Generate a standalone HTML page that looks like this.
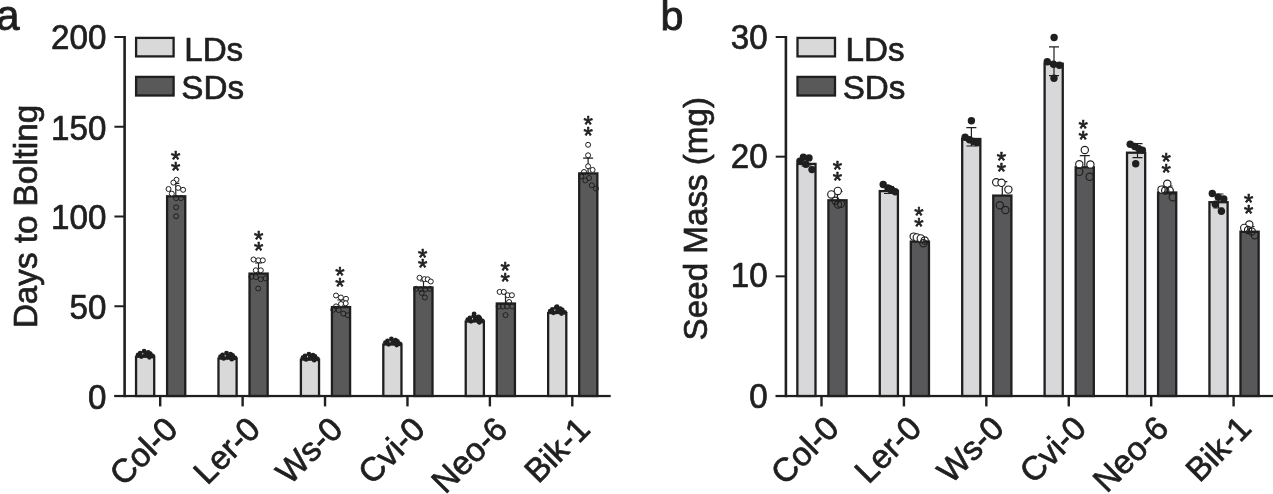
<!DOCTYPE html>
<html><head><meta charset="utf-8"><title>Figure</title>
<style>
html,body{margin:0;padding:0;background:#fff;}
body{width:1273px;height:494px;overflow:hidden;}
svg{display:block;}
svg text{font-family:"Liberation Sans",Arial,Helvetica,sans-serif;fill:#1f1f1f;stroke:#1f1f1f;stroke-width:0.7px;stroke-linejoin:round;}
</style></head><body>
<svg width="1273" height="494" viewBox="0 0 1273 494">
<rect width="1273" height="494" fill="#ffffff"/>
<g id="panelA">
<rect x="123.30" y="36" width="2.6" height="361.20" fill="#1f1f1f"/>
<rect x="114.40" y="394.90" width="496.30" height="2.25" fill="#1f1f1f"/>
<rect x="114.40" y="395.00" width="10" height="2.0" fill="#1f1f1f"/>
<text transform="translate(106.40,408.80) scale(0.959,1)" text-anchor="end" font-size="34.6">0</text>
<rect x="114.40" y="305.25" width="10" height="2.0" fill="#1f1f1f"/>
<text transform="translate(106.40,318.65) scale(0.959,1)" text-anchor="end" font-size="34.6">50</text>
<rect x="114.40" y="215.50" width="10" height="2.0" fill="#1f1f1f"/>
<text transform="translate(106.40,228.60) scale(0.959,1)" text-anchor="end" font-size="34.6">100</text>
<rect x="114.40" y="125.75" width="10" height="2.0" fill="#1f1f1f"/>
<text transform="translate(106.40,140.25) scale(0.959,1)" text-anchor="end" font-size="34.6">150</text>
<rect x="114.40" y="36.00" width="10" height="2.0" fill="#1f1f1f"/>
<text transform="translate(106.40,49.20) scale(0.959,1)" text-anchor="end" font-size="34.6">200</text>
<rect x="159.00" y="396.00" width="2.4" height="10.4" fill="#1f1f1f"/>
<text transform="translate(179.60,431.10) rotate(-45)" text-anchor="end" font-size="33.2">Col-0</text>
<rect x="241.42" y="396.00" width="2.4" height="10.4" fill="#1f1f1f"/>
<text transform="translate(262.02,431.10) rotate(-45)" text-anchor="end" font-size="33.2">Ler-0</text>
<rect x="323.84" y="396.00" width="2.4" height="10.4" fill="#1f1f1f"/>
<text transform="translate(344.44,431.10) rotate(-45)" text-anchor="end" font-size="33.2">Ws-0</text>
<rect x="406.26" y="396.00" width="2.4" height="10.4" fill="#1f1f1f"/>
<text transform="translate(426.86,431.10) rotate(-45)" text-anchor="end" font-size="33.2">Cvi-0</text>
<rect x="488.68" y="396.00" width="2.4" height="10.4" fill="#1f1f1f"/>
<text transform="translate(509.28,431.10) rotate(-45)" text-anchor="end" font-size="33.2">Neo-6</text>
<rect x="571.10" y="396.00" width="2.4" height="10.4" fill="#1f1f1f"/>
<text transform="translate(591.70,431.10) rotate(-45)" text-anchor="end" font-size="33.2">Bik-1</text>
<text transform="translate(36.80,216.5) rotate(-90)" text-anchor="middle" font-size="33.2">Days to Bolting</text>
<rect x="136.10" y="37.9" width="37.5" height="18.5" fill="#d9d9d9" stroke="#1f1f1f" stroke-width="2.3"/>
<rect x="136.10" y="76.9" width="37.5" height="18.6" fill="#595959" stroke="#1f1f1f" stroke-width="2.3"/>
<text x="184.20" y="60.8" font-size="33.2">LDs</text>
<text x="181.30" y="99.0" font-size="33.2">SDs</text>
<rect x="136.05" y="356.70" width="18.15" height="39.30" fill="#d9d9d9" stroke="#1f1f1f" stroke-width="2.3"/>
<rect x="167.10" y="196.30" width="18.15" height="199.70" fill="#595959" stroke="#1f1f1f" stroke-width="2.3"/>
<circle cx="144.1" cy="351.2" r="2.4" fill="#1f1f1f"/>
<circle cx="138.1" cy="354.8" r="2.4" fill="#1f1f1f"/>
<circle cx="141.3" cy="356.5" r="2.4" fill="#1f1f1f"/>
<circle cx="147.0" cy="354.0" r="2.4" fill="#1f1f1f"/>
<circle cx="150.2" cy="353.6" r="2.4" fill="#1f1f1f"/>
<circle cx="152.6" cy="356.0" r="2.4" fill="#1f1f1f"/>
<circle cx="149.4" cy="357.3" r="2.4" fill="#1f1f1f"/>
<circle cx="140.2" cy="353.1" r="2.4" fill="#1f1f1f"/>
<circle cx="148.2" cy="352.3" r="2.4" fill="#1f1f1f"/>
<circle cx="145.2" cy="355.1" r="2.4" fill="#1f1f1f"/>
<path d="M175.80 183.40V196.20M172.30 183.40h7" stroke="#1f1f1f" stroke-width="1.2" fill="none"/>
<circle cx="176.5" cy="179.8" r="2.5" fill="#fff" stroke="#1f1f1f" stroke-width="1"/>
<circle cx="173.4" cy="182.6" r="2.5" fill="#fff" stroke="#1f1f1f" stroke-width="1"/>
<circle cx="168.5" cy="189.0" r="2.5" fill="#fff" stroke="#1f1f1f" stroke-width="1"/>
<circle cx="178.2" cy="187.9" r="2.5" fill="#fff" stroke="#1f1f1f" stroke-width="1"/>
<circle cx="183.1" cy="189.8" r="2.5" fill="#fff" stroke="#1f1f1f" stroke-width="1"/>
<circle cx="171.8" cy="193.6" r="2.5" fill="#fff" stroke="#1f1f1f" stroke-width="1"/>
<circle cx="176.1" cy="198.1" r="2.5" fill="none" stroke="#1f1f1f" stroke-width="1"/>
<circle cx="181.0" cy="198.1" r="2.5" fill="none" stroke="#1f1f1f" stroke-width="1"/>
<circle cx="176.1" cy="207.3" r="2.5" fill="none" stroke="#1f1f1f" stroke-width="1"/>
<circle cx="176.1" cy="216.2" r="2.5" fill="none" stroke="#1f1f1f" stroke-width="1"/>
<text x="175.70" y="168.30" text-anchor="middle" font-size="24">*</text>
<text x="175.70" y="179.30" text-anchor="middle" font-size="24">*</text>
<rect x="218.47" y="358.60" width="18.15" height="37.40" fill="#d9d9d9" stroke="#1f1f1f" stroke-width="2.3"/>
<rect x="249.52" y="273.60" width="18.15" height="122.40" fill="#595959" stroke="#1f1f1f" stroke-width="2.3"/>
<circle cx="226.5" cy="353.1" r="2.4" fill="#1f1f1f"/>
<circle cx="220.5" cy="356.7" r="2.4" fill="#1f1f1f"/>
<circle cx="223.7" cy="358.4" r="2.4" fill="#1f1f1f"/>
<circle cx="229.4" cy="355.9" r="2.4" fill="#1f1f1f"/>
<circle cx="232.6" cy="355.5" r="2.4" fill="#1f1f1f"/>
<circle cx="235.0" cy="357.9" r="2.4" fill="#1f1f1f"/>
<circle cx="231.8" cy="359.2" r="2.4" fill="#1f1f1f"/>
<circle cx="222.6" cy="355.0" r="2.4" fill="#1f1f1f"/>
<circle cx="230.6" cy="354.2" r="2.4" fill="#1f1f1f"/>
<circle cx="227.6" cy="357.0" r="2.4" fill="#1f1f1f"/>
<path d="M258.50 263.00V273.50M255.00 263.00h7" stroke="#1f1f1f" stroke-width="1.2" fill="none"/>
<circle cx="253.5" cy="259.5" r="2.5" fill="#fff" stroke="#1f1f1f" stroke-width="1"/>
<circle cx="258.4" cy="260.3" r="2.5" fill="#fff" stroke="#1f1f1f" stroke-width="1"/>
<circle cx="262.8" cy="260.3" r="2.5" fill="#fff" stroke="#1f1f1f" stroke-width="1"/>
<circle cx="255.8" cy="270.3" r="2.5" fill="#fff" stroke="#1f1f1f" stroke-width="1"/>
<circle cx="260.8" cy="270.3" r="2.5" fill="#fff" stroke="#1f1f1f" stroke-width="1"/>
<circle cx="255.8" cy="277.1" r="2.5" fill="none" stroke="#1f1f1f" stroke-width="1"/>
<circle cx="260.7" cy="279.2" r="2.5" fill="none" stroke="#1f1f1f" stroke-width="1"/>
<circle cx="265.5" cy="278.4" r="2.5" fill="none" stroke="#1f1f1f" stroke-width="1"/>
<circle cx="251.4" cy="276.8" r="2.5" fill="none" stroke="#1f1f1f" stroke-width="1"/>
<circle cx="258.2" cy="288.5" r="2.5" fill="none" stroke="#1f1f1f" stroke-width="1"/>
<text x="258.60" y="248.30" text-anchor="middle" font-size="24">*</text>
<text x="258.60" y="259.30" text-anchor="middle" font-size="24">*</text>
<rect x="300.89" y="359.60" width="18.15" height="36.40" fill="#d9d9d9" stroke="#1f1f1f" stroke-width="2.3"/>
<rect x="331.94" y="307.10" width="18.15" height="88.90" fill="#595959" stroke="#1f1f1f" stroke-width="2.3"/>
<circle cx="308.9" cy="354.1" r="2.4" fill="#1f1f1f"/>
<circle cx="302.9" cy="357.7" r="2.4" fill="#1f1f1f"/>
<circle cx="306.1" cy="359.4" r="2.4" fill="#1f1f1f"/>
<circle cx="311.8" cy="356.9" r="2.4" fill="#1f1f1f"/>
<circle cx="315.0" cy="356.5" r="2.4" fill="#1f1f1f"/>
<circle cx="317.4" cy="358.9" r="2.4" fill="#1f1f1f"/>
<circle cx="314.2" cy="360.2" r="2.4" fill="#1f1f1f"/>
<circle cx="305.0" cy="356.0" r="2.4" fill="#1f1f1f"/>
<circle cx="313.0" cy="355.2" r="2.4" fill="#1f1f1f"/>
<circle cx="310.0" cy="358.0" r="2.4" fill="#1f1f1f"/>
<path d="M340.80 300.00V307.00M337.30 300.00h7" stroke="#1f1f1f" stroke-width="1.2" fill="none"/>
<circle cx="336.0" cy="295.5" r="2.5" fill="#fff" stroke="#1f1f1f" stroke-width="1"/>
<circle cx="340.9" cy="297.5" r="2.5" fill="#fff" stroke="#1f1f1f" stroke-width="1"/>
<circle cx="346.0" cy="298.8" r="2.5" fill="#fff" stroke="#1f1f1f" stroke-width="1"/>
<circle cx="345.7" cy="303.3" r="2.5" fill="#fff" stroke="#1f1f1f" stroke-width="1"/>
<circle cx="336.0" cy="306.4" r="2.5" fill="none" stroke="#1f1f1f" stroke-width="1"/>
<circle cx="338.7" cy="310.1" r="2.5" fill="none" stroke="#1f1f1f" stroke-width="1"/>
<circle cx="343.3" cy="313.7" r="2.5" fill="none" stroke="#1f1f1f" stroke-width="1"/>
<circle cx="347.8" cy="315.2" r="2.5" fill="none" stroke="#1f1f1f" stroke-width="1"/>
<circle cx="333.3" cy="309.7" r="2.5" fill="none" stroke="#1f1f1f" stroke-width="1"/>
<circle cx="341.0" cy="304.0" r="2.5" fill="#fff" stroke="#1f1f1f" stroke-width="1"/>
<text x="339.80" y="283.50" text-anchor="middle" font-size="24">*</text>
<text x="339.80" y="294.60" text-anchor="middle" font-size="24">*</text>
<rect x="383.31" y="344.50" width="18.15" height="51.50" fill="#d9d9d9" stroke="#1f1f1f" stroke-width="2.3"/>
<rect x="414.36" y="287.50" width="18.15" height="108.50" fill="#595959" stroke="#1f1f1f" stroke-width="2.3"/>
<circle cx="391.4" cy="339.0" r="2.4" fill="#1f1f1f"/>
<circle cx="385.4" cy="342.6" r="2.4" fill="#1f1f1f"/>
<circle cx="388.6" cy="344.3" r="2.4" fill="#1f1f1f"/>
<circle cx="394.3" cy="341.8" r="2.4" fill="#1f1f1f"/>
<circle cx="397.5" cy="341.4" r="2.4" fill="#1f1f1f"/>
<circle cx="399.9" cy="343.8" r="2.4" fill="#1f1f1f"/>
<circle cx="396.7" cy="345.1" r="2.4" fill="#1f1f1f"/>
<circle cx="387.5" cy="340.9" r="2.4" fill="#1f1f1f"/>
<circle cx="395.5" cy="340.1" r="2.4" fill="#1f1f1f"/>
<circle cx="392.5" cy="342.9" r="2.4" fill="#1f1f1f"/>
<path d="M423.50 281.00V287.40M420.00 281.00h7" stroke="#1f1f1f" stroke-width="1.2" fill="none"/>
<circle cx="419.5" cy="277.8" r="2.5" fill="#fff" stroke="#1f1f1f" stroke-width="1"/>
<circle cx="424.4" cy="279.1" r="2.5" fill="#fff" stroke="#1f1f1f" stroke-width="1"/>
<circle cx="427.7" cy="279.3" r="2.5" fill="#fff" stroke="#1f1f1f" stroke-width="1"/>
<circle cx="430.8" cy="281.5" r="2.5" fill="#fff" stroke="#1f1f1f" stroke-width="1"/>
<circle cx="416.2" cy="288.8" r="2.5" fill="none" stroke="#1f1f1f" stroke-width="1"/>
<circle cx="420.7" cy="289.1" r="2.5" fill="none" stroke="#1f1f1f" stroke-width="1"/>
<circle cx="425.3" cy="289.1" r="2.5" fill="none" stroke="#1f1f1f" stroke-width="1"/>
<circle cx="429.9" cy="288.8" r="2.5" fill="none" stroke="#1f1f1f" stroke-width="1"/>
<circle cx="421.7" cy="293.0" r="2.5" fill="none" stroke="#1f1f1f" stroke-width="1"/>
<circle cx="424.9" cy="297.5" r="2.5" fill="none" stroke="#1f1f1f" stroke-width="1"/>
<text x="422.60" y="265.50" text-anchor="middle" font-size="24">*</text>
<text x="422.60" y="276.30" text-anchor="middle" font-size="24">*</text>
<rect x="465.73" y="321.50" width="18.15" height="74.50" fill="#d9d9d9" stroke="#1f1f1f" stroke-width="2.3"/>
<rect x="496.78" y="303.50" width="18.15" height="92.50" fill="#595959" stroke="#1f1f1f" stroke-width="2.3"/>
<circle cx="473.8" cy="316.0" r="2.4" fill="#1f1f1f"/>
<circle cx="467.8" cy="319.6" r="2.4" fill="#1f1f1f"/>
<circle cx="471.0" cy="321.3" r="2.4" fill="#1f1f1f"/>
<circle cx="476.7" cy="318.8" r="2.4" fill="#1f1f1f"/>
<circle cx="479.9" cy="318.4" r="2.4" fill="#1f1f1f"/>
<circle cx="482.3" cy="320.8" r="2.4" fill="#1f1f1f"/>
<circle cx="479.1" cy="322.1" r="2.4" fill="#1f1f1f"/>
<circle cx="469.9" cy="317.9" r="2.4" fill="#1f1f1f"/>
<circle cx="477.9" cy="317.1" r="2.4" fill="#1f1f1f"/>
<circle cx="474.9" cy="319.9" r="2.4" fill="#1f1f1f"/>
<circle cx="474.1" cy="313.8" r="2.4" fill="#1f1f1f"/>
<circle cx="478.7" cy="317.0" r="2.4" fill="#1f1f1f"/>
<circle cx="479.5" cy="322.3" r="2.4" fill="#1f1f1f"/>
<path d="M505.50 294.00V303.40M502.00 294.00h7" stroke="#1f1f1f" stroke-width="1.2" fill="none"/>
<circle cx="499.6" cy="291.9" r="2.5" fill="#fff" stroke="#1f1f1f" stroke-width="1"/>
<circle cx="503.8" cy="291.9" r="2.5" fill="#fff" stroke="#1f1f1f" stroke-width="1"/>
<circle cx="507.8" cy="295.2" r="2.5" fill="#fff" stroke="#1f1f1f" stroke-width="1"/>
<circle cx="511.9" cy="295.2" r="2.5" fill="#fff" stroke="#1f1f1f" stroke-width="1"/>
<circle cx="509.1" cy="302.0" r="2.5" fill="none" stroke="#1f1f1f" stroke-width="1"/>
<circle cx="498.7" cy="306.5" r="2.5" fill="none" stroke="#1f1f1f" stroke-width="1"/>
<circle cx="502.7" cy="306.5" r="2.5" fill="none" stroke="#1f1f1f" stroke-width="1"/>
<circle cx="506.9" cy="306.5" r="2.5" fill="none" stroke="#1f1f1f" stroke-width="1"/>
<circle cx="512.4" cy="306.5" r="2.5" fill="none" stroke="#1f1f1f" stroke-width="1"/>
<circle cx="505.5" cy="315.1" r="2.5" fill="none" stroke="#1f1f1f" stroke-width="1"/>
<text x="505.10" y="279.30" text-anchor="middle" font-size="24">*</text>
<text x="505.10" y="290.30" text-anchor="middle" font-size="24">*</text>
<rect x="548.15" y="313.00" width="18.15" height="83.00" fill="#d9d9d9" stroke="#1f1f1f" stroke-width="2.3"/>
<rect x="579.20" y="173.40" width="18.15" height="222.60" fill="#595959" stroke="#1f1f1f" stroke-width="2.3"/>
<circle cx="556.2" cy="307.5" r="2.4" fill="#1f1f1f"/>
<circle cx="550.2" cy="311.1" r="2.4" fill="#1f1f1f"/>
<circle cx="553.4" cy="312.8" r="2.4" fill="#1f1f1f"/>
<circle cx="559.1" cy="310.3" r="2.4" fill="#1f1f1f"/>
<circle cx="562.3" cy="309.9" r="2.4" fill="#1f1f1f"/>
<circle cx="564.7" cy="312.3" r="2.4" fill="#1f1f1f"/>
<circle cx="561.5" cy="313.6" r="2.4" fill="#1f1f1f"/>
<circle cx="552.3" cy="309.4" r="2.4" fill="#1f1f1f"/>
<circle cx="560.3" cy="308.6" r="2.4" fill="#1f1f1f"/>
<circle cx="557.3" cy="311.4" r="2.4" fill="#1f1f1f"/>
<circle cx="557.0" cy="306.6" r="2.4" fill="#1f1f1f"/>
<path d="M588.10 158.10V173.30M583.10 158.10h10" stroke="#1f1f1f" stroke-width="1.2" fill="none"/>
<circle cx="588.1" cy="144.8" r="2.5" fill="#fff" stroke="#1f1f1f" stroke-width="1"/>
<circle cx="588.1" cy="155.3" r="2.5" fill="#fff" stroke="#1f1f1f" stroke-width="1"/>
<circle cx="588.1" cy="166.3" r="2.5" fill="#fff" stroke="#1f1f1f" stroke-width="1"/>
<circle cx="592.6" cy="169.9" r="2.5" fill="#fff" stroke="#1f1f1f" stroke-width="1"/>
<circle cx="581.3" cy="176.4" r="2.5" fill="none" stroke="#1f1f1f" stroke-width="1"/>
<circle cx="585.3" cy="180.4" r="2.5" fill="none" stroke="#1f1f1f" stroke-width="1"/>
<circle cx="591.8" cy="185.3" r="2.5" fill="none" stroke="#1f1f1f" stroke-width="1"/>
<circle cx="595.9" cy="188.5" r="2.5" fill="none" stroke="#1f1f1f" stroke-width="1"/>
<circle cx="584.0" cy="172.0" r="2.5" fill="none" stroke="#1f1f1f" stroke-width="1"/>
<circle cx="589.0" cy="178.0" r="2.5" fill="none" stroke="#1f1f1f" stroke-width="1"/>
<text x="588.10" y="132.80" text-anchor="middle" font-size="24">*</text>
<text x="588.10" y="143.70" text-anchor="middle" font-size="24">*</text>
</g>
<g id="panelB">
<rect x="784.60" y="36" width="2.6" height="361.20" fill="#1f1f1f"/>
<rect x="775.70" y="394.90" width="497.30" height="2.25" fill="#1f1f1f"/>
<rect x="775.70" y="395.00" width="10" height="2.0" fill="#1f1f1f"/>
<text transform="translate(767.70,407.60) scale(0.959,1)" text-anchor="end" font-size="34.6">0</text>
<rect x="775.70" y="275.33" width="10" height="2.0" fill="#1f1f1f"/>
<text transform="translate(767.70,287.23) scale(0.959,1)" text-anchor="end" font-size="34.6">10</text>
<rect x="775.70" y="155.67" width="10" height="2.0" fill="#1f1f1f"/>
<text transform="translate(767.70,167.57) scale(0.959,1)" text-anchor="end" font-size="34.6">20</text>
<rect x="775.70" y="36.00" width="10" height="2.0" fill="#1f1f1f"/>
<text transform="translate(767.70,49.10) scale(0.959,1)" text-anchor="end" font-size="34.6">30</text>
<rect x="820.30" y="396.00" width="2.4" height="10.4" fill="#1f1f1f"/>
<text transform="translate(840.90,430.10) rotate(-45)" text-anchor="end" font-size="33.2">Col-0</text>
<rect x="902.72" y="396.00" width="2.4" height="10.4" fill="#1f1f1f"/>
<text transform="translate(923.32,430.10) rotate(-45)" text-anchor="end" font-size="33.2">Ler-0</text>
<rect x="985.14" y="396.00" width="2.4" height="10.4" fill="#1f1f1f"/>
<text transform="translate(1005.74,430.10) rotate(-45)" text-anchor="end" font-size="33.2">Ws-0</text>
<rect x="1067.56" y="396.00" width="2.4" height="10.4" fill="#1f1f1f"/>
<text transform="translate(1088.16,430.10) rotate(-45)" text-anchor="end" font-size="33.2">Cvi-0</text>
<rect x="1149.98" y="396.00" width="2.4" height="10.4" fill="#1f1f1f"/>
<text transform="translate(1170.58,430.10) rotate(-45)" text-anchor="end" font-size="33.2">Neo-6</text>
<rect x="1232.40" y="396.00" width="2.4" height="10.4" fill="#1f1f1f"/>
<text transform="translate(1253.00,430.10) rotate(-45)" text-anchor="end" font-size="33.2">Bik-1</text>
<text transform="translate(706.90,218.7) rotate(-90)" text-anchor="middle" font-size="33.2">Seed Mass (mg)</text>
<rect x="797.50" y="37.9" width="37.5" height="18.5" fill="#d9d9d9" stroke="#1f1f1f" stroke-width="2.3"/>
<rect x="797.50" y="76.9" width="37.5" height="18.6" fill="#595959" stroke="#1f1f1f" stroke-width="2.3"/>
<text x="845.60" y="60.8" font-size="33.2">LDs</text>
<text x="842.70" y="99.0" font-size="33.2">SDs</text>
<rect x="797.35" y="163.90" width="18.15" height="232.10" fill="#d8d8da" stroke="#1f1f1f" stroke-width="2.3"/>
<rect x="828.40" y="200.30" width="18.15" height="195.70" fill="#58585a" stroke="#1f1f1f" stroke-width="2.3"/>
<path d="M806.50 157.50V166.00M801.50 157.50h10M801.50 166.00h10" stroke="#1f1f1f" stroke-width="1.2" fill="none"/>
<circle cx="803.4" cy="157.2" r="3.7" fill="#1f1f1f"/>
<circle cx="809.0" cy="157.9" r="3.7" fill="#1f1f1f"/>
<circle cx="799.9" cy="161.3" r="3.7" fill="#1f1f1f"/>
<circle cx="805.9" cy="164.3" r="3.7" fill="#1f1f1f"/>
<circle cx="812.0" cy="169.6" r="3.7" fill="#1f1f1f"/>
<path d="M837.50 191.50V200.20M832.50 191.50h10" stroke="#1f1f1f" stroke-width="1.2" fill="none"/>
<circle cx="837.8" cy="190.9" r="3.65" fill="#fff" stroke="#1f1f1f" stroke-width="1.15"/>
<circle cx="831.3" cy="194.4" r="3.65" fill="#fff" stroke="#1f1f1f" stroke-width="1.15"/>
<circle cx="835.5" cy="200.7" r="3.65" fill="none" stroke="#1f1f1f" stroke-width="1.15"/>
<circle cx="840.9" cy="203.8" r="3.65" fill="none" stroke="#1f1f1f" stroke-width="1.15"/>
<circle cx="838.0" cy="204.5" r="3.65" fill="none" stroke="#1f1f1f" stroke-width="1.15"/>
<text x="837.40" y="178.10" text-anchor="middle" font-size="24">*</text>
<text x="837.40" y="188.90" text-anchor="middle" font-size="24">*</text>
<rect x="879.77" y="191.10" width="18.15" height="204.90" fill="#d8d8da" stroke="#1f1f1f" stroke-width="2.3"/>
<rect x="910.82" y="241.60" width="18.15" height="154.40" fill="#58585a" stroke="#1f1f1f" stroke-width="2.3"/>
<path d="M889.00 186.50V193.50M884.00 186.50h10M884.00 193.50h10" stroke="#1f1f1f" stroke-width="1.2" fill="none"/>
<circle cx="883.2" cy="184.5" r="3.7" fill="#1f1f1f"/>
<circle cx="887.9" cy="187.9" r="3.7" fill="#1f1f1f"/>
<circle cx="891.8" cy="190.0" r="3.7" fill="#1f1f1f"/>
<circle cx="895.3" cy="191.8" r="3.7" fill="#1f1f1f"/>
<circle cx="889.5" cy="188.8" r="3.7" fill="#1f1f1f"/>
<path d="M919.50 237.50V241.50M914.50 237.50h10" stroke="#1f1f1f" stroke-width="1.2" fill="none"/>
<circle cx="913.7" cy="236.6" r="3.65" fill="#fff" stroke="#1f1f1f" stroke-width="1.15"/>
<circle cx="916.8" cy="237.4" r="3.65" fill="#fff" stroke="#1f1f1f" stroke-width="1.15"/>
<circle cx="920.8" cy="238.4" r="3.65" fill="#fff" stroke="#1f1f1f" stroke-width="1.15"/>
<circle cx="924.7" cy="240.5" r="3.65" fill="none" stroke="#1f1f1f" stroke-width="1.15"/>
<circle cx="923.4" cy="243.2" r="3.65" fill="none" stroke="#1f1f1f" stroke-width="1.15"/>
<text x="918.90" y="223.90" text-anchor="middle" font-size="24">*</text>
<text x="918.90" y="234.90" text-anchor="middle" font-size="24">*</text>
<rect x="962.19" y="139.00" width="18.15" height="257.00" fill="#d8d8da" stroke="#1f1f1f" stroke-width="2.3"/>
<rect x="993.24" y="195.60" width="18.15" height="200.40" fill="#58585a" stroke="#1f1f1f" stroke-width="2.3"/>
<path d="M971.40 127.60V146.00M966.40 127.60h10M966.40 146.00h10" stroke="#1f1f1f" stroke-width="1.2" fill="none"/>
<circle cx="965.1" cy="137.3" r="3.7" fill="#1f1f1f"/>
<circle cx="969.5" cy="139.8" r="3.7" fill="#1f1f1f"/>
<circle cx="973.6" cy="141.5" r="3.7" fill="#1f1f1f"/>
<circle cx="977.2" cy="142.7" r="3.7" fill="#1f1f1f"/>
<circle cx="971.4" cy="120.8" r="3.7" fill="#1f1f1f"/>
<path d="M1002.30 181.60V195.50M997.30 181.60h10" stroke="#1f1f1f" stroke-width="1.2" fill="none"/>
<circle cx="996.2" cy="182.3" r="3.65" fill="#fff" stroke="#1f1f1f" stroke-width="1.15"/>
<circle cx="1001.5" cy="182.8" r="3.65" fill="#fff" stroke="#1f1f1f" stroke-width="1.15"/>
<circle cx="1008.4" cy="189.6" r="3.65" fill="#fff" stroke="#1f1f1f" stroke-width="1.15"/>
<circle cx="999.8" cy="205.2" r="3.65" fill="none" stroke="#1f1f1f" stroke-width="1.15"/>
<circle cx="1005.4" cy="210.0" r="3.65" fill="none" stroke="#1f1f1f" stroke-width="1.15"/>
<text x="1001.50" y="168.90" text-anchor="middle" font-size="24">*</text>
<text x="1001.50" y="180.30" text-anchor="middle" font-size="24">*</text>
<rect x="1044.61" y="63.70" width="18.15" height="332.30" fill="#d8d8da" stroke="#1f1f1f" stroke-width="2.3"/>
<rect x="1075.66" y="167.30" width="18.15" height="228.70" fill="#58585a" stroke="#1f1f1f" stroke-width="2.3"/>
<path d="M1054.00 46.90V75.70M1049.00 46.90h10M1049.00 75.70h10" stroke="#1f1f1f" stroke-width="1.2" fill="none"/>
<circle cx="1054.1" cy="37.5" r="3.7" fill="#1f1f1f"/>
<circle cx="1047.3" cy="61.8" r="3.7" fill="#1f1f1f"/>
<circle cx="1053.5" cy="64.2" r="3.7" fill="#1f1f1f"/>
<circle cx="1059.4" cy="65.2" r="3.7" fill="#1f1f1f"/>
<circle cx="1054.0" cy="78.3" r="3.7" fill="#1f1f1f"/>
<path d="M1084.80 155.60V167.20M1079.80 155.60h10" stroke="#1f1f1f" stroke-width="1.2" fill="none"/>
<circle cx="1084.8" cy="150.0" r="3.65" fill="#fff" stroke="#1f1f1f" stroke-width="1.15"/>
<circle cx="1079.3" cy="164.2" r="3.65" fill="#fff" stroke="#1f1f1f" stroke-width="1.15"/>
<circle cx="1090.4" cy="164.5" r="3.65" fill="#fff" stroke="#1f1f1f" stroke-width="1.15"/>
<circle cx="1079.3" cy="171.8" r="3.65" fill="none" stroke="#1f1f1f" stroke-width="1.15"/>
<circle cx="1089.7" cy="176.8" r="3.65" fill="none" stroke="#1f1f1f" stroke-width="1.15"/>
<text x="1083.20" y="137.10" text-anchor="middle" font-size="24">*</text>
<text x="1083.20" y="147.90" text-anchor="middle" font-size="24">*</text>
<rect x="1127.03" y="152.70" width="18.15" height="243.30" fill="#d8d8da" stroke="#1f1f1f" stroke-width="2.3"/>
<rect x="1158.08" y="192.50" width="18.15" height="203.50" fill="#58585a" stroke="#1f1f1f" stroke-width="2.3"/>
<path d="M1137.50 143.60V157.70M1132.50 143.60h10M1132.50 157.70h10" stroke="#1f1f1f" stroke-width="1.2" fill="none"/>
<circle cx="1130.2" cy="144.3" r="3.7" fill="#1f1f1f"/>
<circle cx="1134.8" cy="146.5" r="3.7" fill="#1f1f1f"/>
<circle cx="1138.7" cy="148.6" r="3.7" fill="#1f1f1f"/>
<circle cx="1142.4" cy="150.1" r="3.7" fill="#1f1f1f"/>
<circle cx="1135.7" cy="163.8" r="3.7" fill="#1f1f1f"/>
<path d="M1167.50 186.00V192.40M1162.50 186.00h10" stroke="#1f1f1f" stroke-width="1.2" fill="none"/>
<circle cx="1167.3" cy="183.8" r="3.65" fill="#fff" stroke="#1f1f1f" stroke-width="1.15"/>
<circle cx="1161.5" cy="189.6" r="3.65" fill="#fff" stroke="#1f1f1f" stroke-width="1.15"/>
<circle cx="1165.2" cy="190.5" r="3.65" fill="none" stroke="#1f1f1f" stroke-width="1.15"/>
<circle cx="1169.7" cy="190.5" r="3.65" fill="none" stroke="#1f1f1f" stroke-width="1.15"/>
<circle cx="1172.8" cy="197.2" r="3.65" fill="none" stroke="#1f1f1f" stroke-width="1.15"/>
<text x="1166.10" y="170.00" text-anchor="middle" font-size="24">*</text>
<text x="1166.10" y="180.90" text-anchor="middle" font-size="24">*</text>
<rect x="1209.45" y="202.20" width="18.15" height="193.80" fill="#d8d8da" stroke="#1f1f1f" stroke-width="2.3"/>
<rect x="1240.50" y="231.70" width="18.15" height="164.30" fill="#58585a" stroke="#1f1f1f" stroke-width="2.3"/>
<path d="M1218.50 194.00V208.00M1213.50 194.00h10M1213.50 208.00h10" stroke="#1f1f1f" stroke-width="1.2" fill="none"/>
<circle cx="1212.3" cy="193.5" r="3.7" fill="#1f1f1f"/>
<circle cx="1218.3" cy="197.2" r="3.7" fill="#1f1f1f"/>
<circle cx="1223.8" cy="199.0" r="3.7" fill="#1f1f1f"/>
<circle cx="1215.3" cy="204.2" r="3.7" fill="#1f1f1f"/>
<circle cx="1221.4" cy="211.2" r="3.7" fill="#1f1f1f"/>
<path d="M1249.50 226.50V231.60M1244.50 226.50h10" stroke="#1f1f1f" stroke-width="1.2" fill="none"/>
<circle cx="1249.3" cy="224.5" r="3.65" fill="#fff" stroke="#1f1f1f" stroke-width="1.15"/>
<circle cx="1244.2" cy="227.9" r="3.65" fill="#fff" stroke="#1f1f1f" stroke-width="1.15"/>
<circle cx="1248.1" cy="230.0" r="3.65" fill="none" stroke="#1f1f1f" stroke-width="1.15"/>
<circle cx="1251.8" cy="231.5" r="3.65" fill="none" stroke="#1f1f1f" stroke-width="1.15"/>
<circle cx="1254.8" cy="235.2" r="3.65" fill="none" stroke="#1f1f1f" stroke-width="1.15"/>
<text x="1248.70" y="211.30" text-anchor="middle" font-size="24">*</text>
<text x="1248.70" y="222.10" text-anchor="middle" font-size="24">*</text>
</g>
<text x="-3.7" y="30.0" font-size="41.8" style="stroke-width:0.9px">a</text>
<text x="660.4" y="30.0" font-size="41.2" style="stroke-width:0.9px">b</text>
</svg>
</body></html>
